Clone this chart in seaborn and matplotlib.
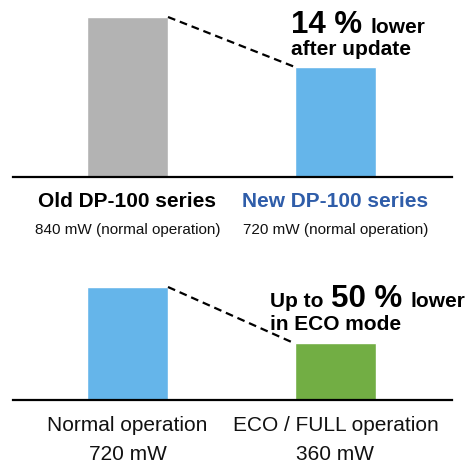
import numpy as np
import pandas as pd
import matplotlib as mpl
mpl.use("Agg")
from matplotlib import pyplot as plt
import seaborn as sns

# top panel: old vs new series
series_names = ["Old DP-100 series", "New DP-100 series"]
series_power = [840, 720]
series_notes = ["840 mW (normal operation)", "720 mW (normal operation)"]
series_colors = ["#B3B3B3", "#65B5EA"]

# bottom panel: normal vs ECO mode
mode_names = ["Normal operation", "ECO / FULL operation"]
mode_power = [720, 360]
mode_notes = ["720 mW", "360 mW"]
mode_colors = ["#65B5EA", "#72AE44"]

sns.set_style("white")
plt.rcParams["font.family"] = ["Liberation Sans", "DejaVu Sans"]
plt.rcParams["text.color"] = "black"

W, H = 468, 466
fig = plt.figure(figsize=(W / 100, H / 100), dpi=100)

def px(x, y):
    # pixel (from top-left) -> figure fraction
    return x / W, 1 - y / H

bar_w = 0.39

def panel(top_px, base_px, names, vals, colors, ylim):
    x0, y0 = px(13, base_px)
    ax = fig.add_axes([x0, y0, 439 / W, (base_px - top_px) / H])
    df = pd.DataFrame({"name": names, "val": vals})
    sns.barplot(data=df, x="name", y="val", hue="name", palette=colors,
                width=bar_w, legend=False, ax=ax, saturation=1)
    ax.set_xlim(-0.55, 1.56)
    ax.set_ylim(*ylim)
    for s in ["top", "left", "right"]:
        ax.spines[s].set_visible(False)
    ax.spines["bottom"].set_color("black")
    ax.spines["bottom"].set_linewidth(1.6)
    ax.set_xticks([])
    ax.set_yticks([])
    ax.set_xlabel("")
    ax.set_ylabel("")
    # dashed connector between bar tops
    ax.plot([bar_w / 2, 1 - bar_w / 2], [vals[0], vals[1]], color="black",
            lw=1.6, linestyle=(0, (3.5, 2.2)), clip_on=False)
    return ax

panel(0, 177, series_names, series_power, series_colors, (456, 880.8))
panel(260, 400, mode_names, mode_power, mode_colors, (0, 892))

# top labels
for cx, name, note, col in zip([127.5, 335.5], series_names, series_notes,
                               ["black", "#2F5DA9"]):
    fig.text(*px(cx, 207), name, ha="center", va="baseline",
             fontsize=15, fontweight="bold", color=col)
    fig.text(*px(cx, 234), note, ha="center", va="baseline",
             fontsize=11, color="#111111")

# bottom labels
for cx, name, note in zip([127.5, 335.5], mode_names, mode_notes):
    fig.text(*px(cx, 431), name, ha="center", va="baseline",
             fontsize=15, color="#111111")
    fig.text(*px(cx, 460), note, ha="center", va="baseline",
             fontsize=15, color="#111111")

# annotations
fig.text(*px(291, 33), "14 %", ha="left", va="baseline",
         fontsize=22.5, fontweight="bold")
fig.text(*px(370, 33), "lower", ha="left", va="baseline",
         fontsize=15, fontweight="bold")
fig.text(*px(291, 55), "after update", ha="left", va="baseline",
         fontsize=15, fontweight="bold")

fig.text(*px(270, 307), "Up to", ha="left", va="baseline",
         fontsize=15, fontweight="bold")
fig.text(*px(331, 307), "50 %", ha="left", va="baseline",
         fontsize=22.5, fontweight="bold")
fig.text(*px(410, 307), "lower", ha="left", va="baseline",
         fontsize=15, fontweight="bold")
fig.text(*px(270, 330), "in ECO mode", ha="left", va="baseline",
         fontsize=15, fontweight="bold")

fig.savefig("out.png", dpi=100)
